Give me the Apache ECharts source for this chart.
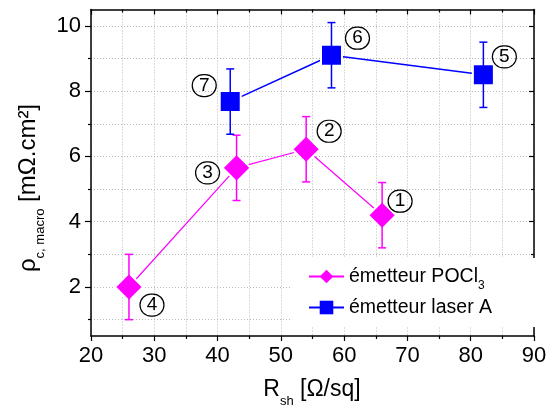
<!DOCTYPE html>
<html><head><meta charset="utf-8">
<script src="https://cdn.jsdelivr.net/npm/echarts@6/dist/echarts.min.js"></script>
<style>html,body{margin:0;padding:0;background:#fff}#c{width:554px;height:409px}</style>
</head><body><div id="c"></div>
<script>
// ---- data ----
const pocl3X = [26, 43, 54, 66];
const pocl3Y = [2.0, 5.65, 6.22, 4.2];
const pocl3Err = [1.0, 1.0, 1.0, 1.0];
const pocl3Ids = ['4', '3', '2', '1'];
const laserX = [42, 58, 82];
const laserY = [7.68, 9.1, 8.5];
const laserErr = [1.0, 1.0, 1.0];
const laserIds = ['7', '6', '5'];
const yMajorTicks = [2, 4, 6, 8, 10];
const yMinorTicks = [1, 3, 5, 7, 9];
const seriesNames = ['émetteur POCl3', 'émetteur laser A'];

// ---- layout / styling ----
const FONT = '"Liberation Sans", Arial, sans-serif';
const MAGENTA = '#ff00ff', BLUE = '#0000ff';
const pocl3LabelOffsets = [[23, 18], [-29, 5], [23, -18], [18, -14]];
const laserLabelOffsets = [[-26, -16], [26, -17], [21, -18]];
const gridLine = { show: true, lineStyle: { color: '#b8b8b8', width: 1, type: [1, 2] } };
const axisLineStyle = { show: true, lineStyle: { color: '#000', width: 1.5 } };
const tickLine = { color: '#000', width: 1.2 };
const circleRich = {
  c: { width: 24, height: 22, lineHeight: 22, align: 'center', fontSize: 19, fontFamily: FONT,
       color: '#000', borderColor: '#000', borderWidth: 1.2, borderRadius: 12 }
};

function lineData(xs, ys, ids, offs) {
  return xs.map((x, i) => ({ value: [x, ys[i]], name: ids[i], label: { offset: offs[i] } }));
}
function errData(xs, ys, es) {
  return xs.map((x, i) => [x, ys[i] - es[i], ys[i] + es[i]]);
}
function errRender(color) {
  return function (params, api) {
    const lo = api.coord([api.value(0), api.value(1)]);
    const hi = api.coord([api.value(0), api.value(2)]);
    const w = 4;
    const st = { stroke: color, lineWidth: 1.5 };
    return { type: 'group', children: [
      { type: 'line', shape: { x1: lo[0], y1: lo[1], x2: hi[0], y2: hi[1] }, style: st },
      { type: 'line', shape: { x1: lo[0] - w, y1: lo[1], x2: lo[0] + w, y2: lo[1] }, style: st },
      { type: 'line', shape: { x1: hi[0] - w, y1: hi[1], x2: hi[0] + w, y2: hi[1] }, style: st }
    ]};
  };
}

const chart = echarts.init(document.getElementById('c'), null, { renderer: 'canvas' });
const yBase = { type: 'value', min: 0.5, max: 10.5, gridIndex: 0 };
chart.setOption({
  animation: false,
  backgroundColor: '#fff',
  grid: { left: 91, right: 20, top: 9.5, bottom: 73, containLabel: false, outerBoundsMode: 'none' },
  xAxis: [
    { type: 'value', position: 'bottom', min: 20, max: 90, interval: 10,
      axisLine: axisLineStyle,
      axisTick: { show: true, length: 5, lineStyle: tickLine },
      minorTick: { show: true, splitNumber: 2, length: 3, lineStyle: tickLine },
      splitLine: gridLine, minorSplitLine: gridLine,
      axisLabel: { fontSize: 22, color: '#000', fontFamily: FONT, margin: 9 } },
    { type: 'value', position: 'top', min: 20, max: 90, interval: 10,
      axisLine: axisLineStyle,
      axisTick: { show: true, inside: true, length: 5, lineStyle: tickLine },
      minorTick: { show: true, splitNumber: 2, length: 3, lineStyle: tickLine },
      splitLine: { show: false }, axisLabel: { show: false } }
  ],
  yAxis: [
    Object.assign({}, yBase, { position: 'left',
      axisLine: axisLineStyle,
      axisTick: { show: true, length: 6, lineStyle: tickLine, customValues: yMajorTicks },
      splitLine: gridLine,
      axisLabel: { fontSize: 22, color: '#000', fontFamily: FONT, margin: 10, customValues: yMajorTicks } }),
    Object.assign({}, yBase, { position: 'left',
      axisLine: { show: false },
      axisTick: { show: true, length: 3, lineStyle: tickLine, customValues: yMinorTicks },
      splitLine: gridLine,
      axisLabel: { show: false } }),
    Object.assign({}, yBase, { position: 'right',
      axisLine: axisLineStyle,
      axisTick: { show: true, inside: true, length: 5, lineStyle: tickLine, customValues: yMajorTicks },
      splitLine: { show: false }, axisLabel: { show: false } }),
    Object.assign({}, yBase, { position: 'right',
      axisLine: { show: false },
      axisTick: { show: true, inside: true, length: 3, lineStyle: tickLine, customValues: yMinorTicks },
      splitLine: { show: false }, axisLabel: { show: false } })
  ],
  legend: {
    orient: 'vertical', left: 290, top: 258,
    backgroundColor: '#fff',
    padding: [3, 44, 4, 18],
    itemWidth: 35, itemHeight: 17, itemGap: 0,
    itemStyle: { borderWidth: 0 },
    data: seriesNames,
    formatter: n => n === seriesNames[0] ? 'émetteur POCl{s|3}' : n,
    textStyle: { fontFamily: FONT, fontSize: 19.5, color: '#000', lineHeight: 31,
      rich: { s: { fontFamily: FONT, fontSize: 12, lineHeight: 12, padding: [19, 0, 0, 0], color: '#000' } } }
  },
  graphic: [
    { type: 'text', x: 312, y: 390, silent: true,
      style: { text: '{a|R}{s|sh}{a| [Ω/sq]}', align: 'center', verticalAlign: 'middle',
        rich: { a: { fontSize: 23, fontFamily: FONT, color: '#000' },
                s: { fontSize: 13, fontFamily: FONT, color: '#000', padding: [22, 0, 0, 0] } } } },
    { type: 'text', x: 28, y: 188, rotation: Math.PI / 2, silent: true,
      style: { text: '{a|ρ}{s|c, macro}{a| [mΩ.cm²]}', align: 'center', verticalAlign: 'middle',
        rich: { a: { fontSize: 24, fontFamily: FONT, color: '#000' },
                s: { fontSize: 13, fontFamily: FONT, color: '#000', padding: [24, 0, 0, 0] } } } }
  ],
  series: [
    { name: seriesNames[0], type: 'line', xAxisIndex: 0, yAxisIndex: 0,
      data: lineData(pocl3X, pocl3Y, pocl3Ids, pocl3LabelOffsets),
      symbol: 'diamond', symbolSize: 28, z: 2,
      lineStyle: { color: MAGENTA, width: 1.2 },
      itemStyle: { color: MAGENTA, borderColor: '#fff', borderWidth: 2 },
      label: { show: true, position: 'inside', formatter: p => '{c|' + p.name + '}', rich: circleRich },
      emphasis: { disabled: true } },
    { name: seriesNames[1], type: 'line', xAxisIndex: 0, yAxisIndex: 0,
      data: lineData(laserX, laserY, laserIds, laserLabelOffsets),
      symbol: 'rect', symbolSize: 21, z: 2,
      lineStyle: { color: BLUE, width: 1.5 },
      itemStyle: { color: BLUE, borderColor: '#fff', borderWidth: 2 },
      label: { show: true, position: 'inside', formatter: p => '{c|' + p.name + '}', rich: circleRich },
      emphasis: { disabled: true } },
    { type: 'custom', xAxisIndex: 0, yAxisIndex: 0, z: 3, silent: true,
      data: errData(pocl3X, pocl3Y, pocl3Err), renderItem: errRender(MAGENTA) },
    { type: 'custom', xAxisIndex: 0, yAxisIndex: 0, z: 3, silent: true,
      data: errData(laserX, laserY, laserErr), renderItem: errRender(BLUE) }
  ]
});
</script></body></html>
